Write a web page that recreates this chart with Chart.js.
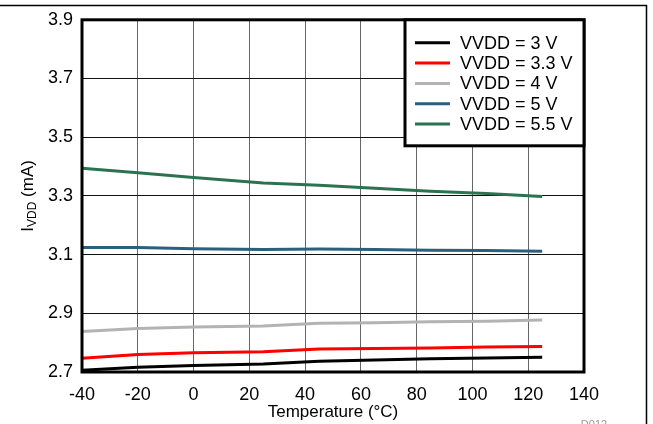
<!DOCTYPE html>
<html>
<head>
<meta charset="utf-8">
<script src="https://cdn.jsdelivr.net/npm/chart.js@4.4.1/dist/chart.umd.min.js"></script>
<style>
  body { margin: 0; background: #fff; }
  canvas { display: block; }
</style>
</head>
<body>
<canvas id="idd-graph" width="653" height="424"></canvas>
<script>
// temperature points (°C) and supply current (mA) per VDD
const temperatures = [-40, -20, 0, 25, 45, 65, 85, 105, 125];
const vdd3 = [2.706, 2.716, 2.722, 2.727, 2.737, 2.741, 2.745, 2.748, 2.750];
const vdd33 = [2.747, 2.760, 2.766, 2.769, 2.778, 2.780, 2.782, 2.785, 2.787];
const vdd4 = [2.838, 2.848, 2.853, 2.857, 2.866, 2.868, 2.871, 2.873, 2.877];
const vdd5 = [3.124, 3.124, 3.120, 3.117, 3.119, 3.117, 3.115, 3.114, 3.111];
const vdd55 = [3.394, 3.379, 3.363, 3.344, 3.336, 3.326, 3.316, 3.308, 3.298];

const seriesLabels = ['VVDD = 3 V', 'VVDD = 3.3 V', 'VVDD = 4 V', 'VVDD = 5 V', 'VVDD = 5.5 V'];
const seriesColors = ['#000000', '#ff0000', '#b3b3b3', '#2b5f7e', '#2b7350'];
const seriesValues = [vdd3, vdd33, vdd4, vdd5, vdd55];

const FONT = '"Liberation Sans", Arial, sans-serif';

function toPoints(values) {
    return temperatures.map((t, i) => ({ x: t, y: values[i] }));
}

// plot frame, outer frame, legend box, y title with subscript
const decorations = {
    id: 'decorations',
    afterDraw(chart) {
        const ctx = chart.ctx;
        const a = chart.chartArea;
        ctx.save();

        // plot border
        ctx.strokeStyle = '#000';
        ctx.lineWidth = 3;
        ctx.strokeRect(a.left, a.top, a.right - a.left, a.bottom - a.top);

        // outer frame (top and right edges)
        ctx.lineWidth = 1.5;
        ctx.beginPath();
        ctx.moveTo(0, 5.5);
        ctx.lineTo(646.5, 5.5);
        ctx.lineTo(646.5, 424);
        ctx.stroke();

        // legend
        const lx = 405, ly = a.top, lw = a.right - 405, lh = 126;
        ctx.fillStyle = '#fff';
        ctx.fillRect(lx, ly, lw, lh);
        ctx.lineWidth = 3;
        ctx.strokeRect(lx, ly, lw, lh);
        ctx.font = '18px ' + FONT;
        ctx.textBaseline = 'middle';
        ctx.textAlign = 'left';
        chart.data.datasets.forEach((ds, i) => {
            const y = ly + 23 + i * 20.3;
            ctx.strokeStyle = ds.borderColor;
            ctx.lineWidth = 3;
            ctx.beginPath();
            ctx.moveTo(415, y);
            ctx.lineTo(450, y);
            ctx.stroke();
            ctx.fillStyle = '#000';
            ctx.fillText(ds.label, 460, y + 1);
        });

        // y axis title: I_VDD (mA)
        const cy = (a.top + a.bottom) / 2;
        ctx.translate(28, cy);
        ctx.rotate(-Math.PI / 2);
        const big = '17px ' + FONT, small = '12px ' + FONT;
        ctx.font = big;
        const wI = ctx.measureText('I').width;
        const wRest = ctx.measureText(' (mA)').width;
        ctx.font = small;
        const wSub = ctx.measureText('VDD').width;
        let x = -(wI + wSub + wRest) / 2;
        ctx.fillStyle = '#000';
        ctx.textBaseline = 'middle';
        ctx.font = big;
        ctx.fillText('I', x, 0);
        x += wI;
        ctx.font = small;
        ctx.fillText('VDD', x, 5);
        x += wSub;
        ctx.font = big;
        ctx.fillText(' (mA)', x, 0);
        ctx.setTransform(1, 0, 0, 1, 0, 0);

        // figure id
        ctx.font = '11px ' + FONT;
        ctx.fillStyle = '#999';
        ctx.textAlign = 'center';
        ctx.textBaseline = 'alphabetic';
        ctx.fillText('D012', 594, 428);

        ctx.restore();
    }
};

window.onload = () => {
    const ctx = document.getElementById('idd-graph').getContext('2d');
    new Chart(ctx, {
        type: 'line',
        data: {
            datasets: seriesValues.map((vals, i) => ({
                label: seriesLabels[i],
                data: toPoints(vals),
                borderColor: seriesColors[i],
                backgroundColor: seriesColors[i],
                borderWidth: 3,
                pointRadius: 0,
                tension: 0,
                fill: false
            }))
        },
        options: {
            responsive: false,
            animation: false,
            layout: { padding: { top: 19, right: 69, left: 0, bottom: 0 } },
            plugins: {
                legend: { display: false },
                tooltip: { enabled: false }
            },
            scales: {
                x: {
                    type: 'linear',
                    min: -40,
                    max: 140,
                    afterFit: (s) => { s.height = 52; },
                    ticks: {
                        stepSize: 20,
                        padding: 12,
                        color: '#000',
                        font: { family: FONT, size: 18 }
                    },
                    grid: { color: '#666', lineWidth: 1, drawTicks: false },
                    border: { display: false },
                    title: {
                        display: true,
                        text: 'Temperature (°C)',
                        color: '#000',
                        font: { family: FONT, size: 17 },
                        padding: { top: 0, bottom: 1 }
                    }
                },
                y: {
                    min: 2.7,
                    max: 3.9,
                    afterFit: (s) => { s.width = 82; },
                    ticks: {
                        stepSize: 0.2,
                        padding: 9,
                        color: '#000',
                        font: { family: FONT, size: 18 },
                        callback: (v) => v.toFixed(1)
                    },
                    grid: { color: '#111', lineWidth: 1, drawTicks: false },
                    border: { display: false }
                }
            }
        },
        plugins: [decorations]
    });
};
</script>
</body>
</html>
